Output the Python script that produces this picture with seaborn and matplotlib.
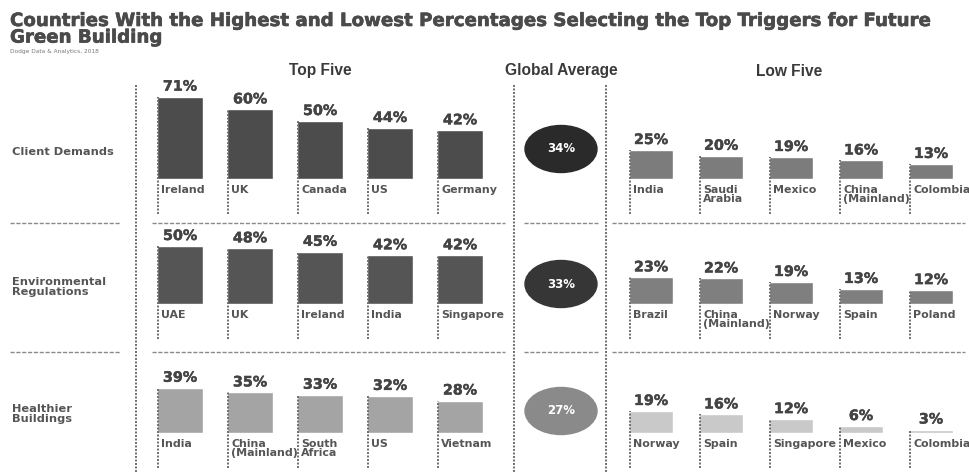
import matplotlib

matplotlib.use("Agg")
import matplotlib.pyplot as plt
import matplotlib.patheffects as pe
import seaborn as sns
from matplotlib.patches import Ellipse

sns.set_style("white")
plt.rcParams["font.family"] = ["DejaVu Sans"]

TITLE = "Countries With the Highest and Lowest Percentages Selecting the Top Triggers for Future\nGreen Building"
SOURCE = "Dodge Data & Analytics, 2018"
HEADERS = ["Top Five", "Global Average", "Low Five"]

triggers = ["Client Demands", "Environmental\nRegulations", "Healthier\nBuildings"]

top_countries = [
    ["Ireland", "UK", "Canada", "US", "Germany"],
    ["UAE", "UK", "Ireland", "India", "Singapore"],
    ["India", "China\n(Mainland)", "South\nAfrica", "US", "Vietnam"],
]
top_values = [
    [71, 60, 50, 44, 42],
    [50, 48, 45, 42, 42],
    [39, 35, 33, 32, 28],
]

global_avg = [34, 33, 27]

low_countries = [
    ["India", "Saudi\nArabia", "Mexico", "China\n(Mainland)", "Colombia"],
    ["Brazil", "China\n(Mainland)", "Norway", "Spain", "Poland"],
    ["Norway", "Spain", "Singapore", "Mexico", "Colombia"],
]
low_values = [
    [25, 20, 19, 16, 13],
    [23, 22, 19, 13, 12],
    [19, 16, 12, 6, 3],
]

# styling
W, H = 969, 472
TXT = "#444444"
DOT = "#6e6e6e"
top_colors = ["#4c4c4c", "#555555", "#a4a4a4"]
low_colors = ["#7c7c7c", "#7f7f7f", "#c9c9c9"]
circle_colors = ["#2a2a2a", "#363636", "#8a8a8a"]
baselines = [179, 304, 433]
row_centers = [152, 287, 414]
separators = [223, 352]
PPP = 1.16  # pixels per percent


def rect(x0, y0, x1, y1):
    return [x0 / W, 1 - y1 / H, (x1 - x0) / W, (y1 - y0) / H]


def draw_panel(fig, x0, base, countries, values, color, width):
    ymax = 80
    ax = fig.add_axes(rect(x0, base - ymax * PPP, x0 + 350, base))
    sns.barplot(x=countries, y=values, color=color, saturation=1, width=width, ax=ax)
    ax.set_xlim(-0.5, 4.5)
    ax.set_ylim(0, ymax)
    ax.axis("off")
    for i, (c, v) in enumerate(zip(countries, values)):
        left = i - width / 2
        ax.vlines(left + 0.01, -30, v, colors=DOT, linestyles=(0, (1, 0.8)), lw=1.4, clip_on=False)
        ax.text(i, v + 3 / PPP, f"{v}%", ha="center", va="bottom", fontsize=10.3,
                fontweight="bold", color=TXT, clip_on=False,
                path_effects=[pe.withStroke(linewidth=0.3, foreground=TXT)])
        ax.text(left + 0.06, -6 / PPP, c, ha="left", va="top", fontsize=7.9,
                fontweight="bold", color="#555555", linespacing=0.85, clip_on=False)
    return ax


fig = plt.figure(figsize=(W / 100, H / 100), dpi=100)
bg = fig.add_axes([0, 0, 1, 1])
bg.set_xlim(0, W)
bg.set_ylim(H, 0)
bg.axis("off")

bg.text(10, 12, TITLE, ha="left", va="top", fontsize=13.1, fontweight="heavy",
        color="#4a4a4a", linespacing=0.9,
        path_effects=[pe.withStroke(linewidth=0.45, foreground="#4a4a4a")])
bg.text(10, 52, SOURCE, ha="left", va="center", fontsize=4.2, color="#777777")

for x, h in zip([320, 561, 789], HEADERS):
    bg.text(x, 71, h, ha="center", va="center", fontsize=11.2, fontweight="bold",
            color="#3a3a3a", family=["Liberation Sans", "DejaVu Sans"])

for x in [136, 514, 606]:
    bg.vlines(x, 85, H, colors=DOT, linestyles=(0, (1, 0.8)), lw=1.4)

for y in separators:
    for xa, xb in [(10, 120), (152, 505), (524, 598), (612, 965)]:
        bg.hlines(y, xa, xb, colors="#8a8a8a", linestyles=(0, (3, 1.2)), lw=1.0)

for r in range(3):
    bg.text(12, row_centers[r], triggers[r], ha="left", va="center", fontsize=8.2,
            fontweight="bold", color="#555555", linespacing=0.9)
    bg.add_patch(Ellipse((561, row_centers[r] - 3), 72, 47, color=circle_colors[r]))
    bg.text(561, row_centers[r] - 3, f"{global_avg[r]}%", ha="center", va="center",
            fontsize=8.5, fontweight="bold", color="white")
    draw_panel(fig, 145, baselines[r], top_countries[r], top_values[r], top_colors[r], 0.66)
    draw_panel(fig, 616, baselines[r], low_countries[r], low_values[r], low_colors[r], 0.63)

plt.savefig("out.png", dpi=100)
plt.close(fig)
